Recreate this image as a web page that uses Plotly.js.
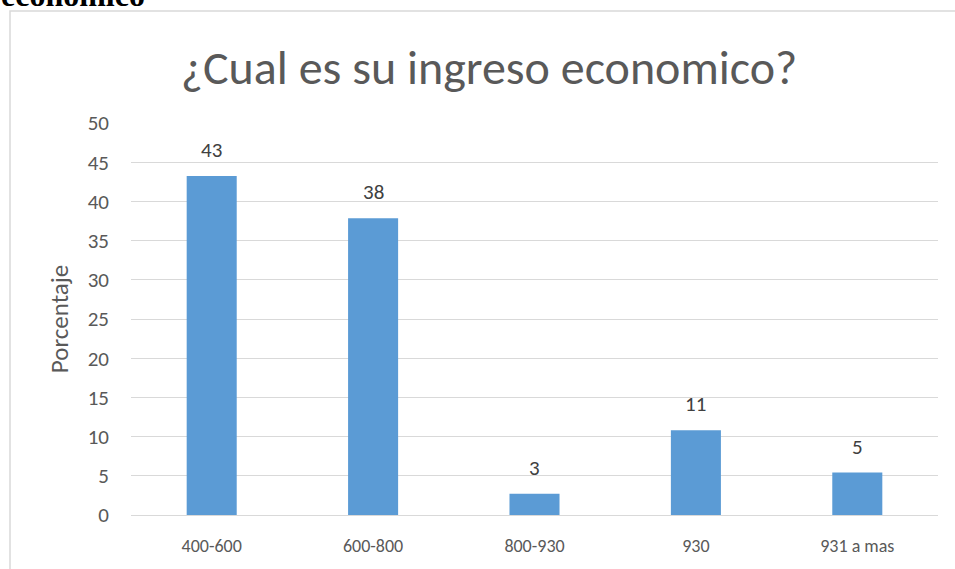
<!DOCTYPE html>
<html>
<head>
<meta charset="utf-8">
<script src="https://cdn.plot.ly/plotly-3.0.1.min.js"></script>
<style>
html,body{margin:0;padding:0;background:#fff;}
#chart{width:955px;height:569px;}
</style>
</head>
<body>
<div id="chart"></div>
<script>
const categories = ["400-600", "600-800", "800-930", "930", "931 a mas"];
const values = [43.24, 37.84, 2.70, 10.81, 5.41];
const yTicks = [0, 5, 10, 15, 20, 25, 30, 35, 40, 45, 50];

const FONT = "Carlito, Calibri, 'Open Sans', sans-serif";
const GREY = "#595959";

const trace = {
  type: "bar",
  x: categories,
  y: values,
  marker: {color: "#5b9bd5"},
  hoverinfo: "x+y"
};

// value labels placed at each category index, lifted above the bar top
const valueLabels = categories.map((c, i) => ({
  x: i, y: values[i], xref: "x", yref: "y",
  text: String(Math.round(values[i])),
  showarrow: false, yanchor: "middle", yshift: 26,
  font: {family: FONT, size: 21, color: "#404040"}
}));

const layout = {
  width: 955,
  height: 569,
  margin: {l: 131, r: 17, t: 123, b: 54},
  paper_bgcolor: "#ffffff",
  plot_bgcolor: "#ffffff",
  bargap: 0.69,
  showlegend: false,
  font: {family: FONT, color: GREY},
  title: {
    text: "¿Cual es su ingreso economico?",
    font: {family: FONT, size: 48, color: GREY},
    x: 489 / 955, xanchor: "center",
    y: 1 - 67/569, yanchor: "middle"
  },
  xaxis: {
    type: "category",
    categoryorder: "array",
    categoryarray: categories,
    range: [-0.5, categories.length - 0.5],
    tickfont: {family: FONT, size: 18, color: GREY},
    ticklabelstandoff: 14,
    showgrid: false,
    showline: true,
    linecolor: "#d9d9d9",
    linewidth: 1,
    ticks: "",
    fixedrange: true
  },
  yaxis: {
    range: [0, 50],
    tickvals: yTicks,
    tickfont: {family: FONT, size: 21, color: GREY},
    ticklabelstandoff: 21,
    showgrid: true,
    gridcolor: "#d9d9d9",
    gridwidth: 1,
    zeroline: false,
    showline: false,
    ticks: "",
    title: {text: "Porcentaje", font: {family: FONT, size: 25, color: GREY}, standoff: 11},
    fixedrange: true
  },
  shapes: [
    {type: "rect", xref: "paper", yref: "paper",
     x0: (10 - 131) / 807, x1: 1.2, y0: -0.3, y1: (515 - 11) / 392,
     line: {color: "#d9d9d9", width: 1.5}, fillcolor: "rgba(0,0,0,0)", layer: "below"}
  ],
  annotations: valueLabels.concat([
    {text: "<b>económico</b>", xref: "paper", yref: "paper",
     x: (-1 - 131) / 807, y: (515 - 12) / 392, xanchor: "left", yanchor: "bottom",
     showarrow: false, yshift: -3,
     font: {family: "'Liberation Serif', 'Times New Roman', serif", size: 32, color: "#000"}}
  ])
};

Plotly.newPlot("chart", [trace], layout, {displayModeBar: false, staticPlot: true});
</script>
</body>
</html>
